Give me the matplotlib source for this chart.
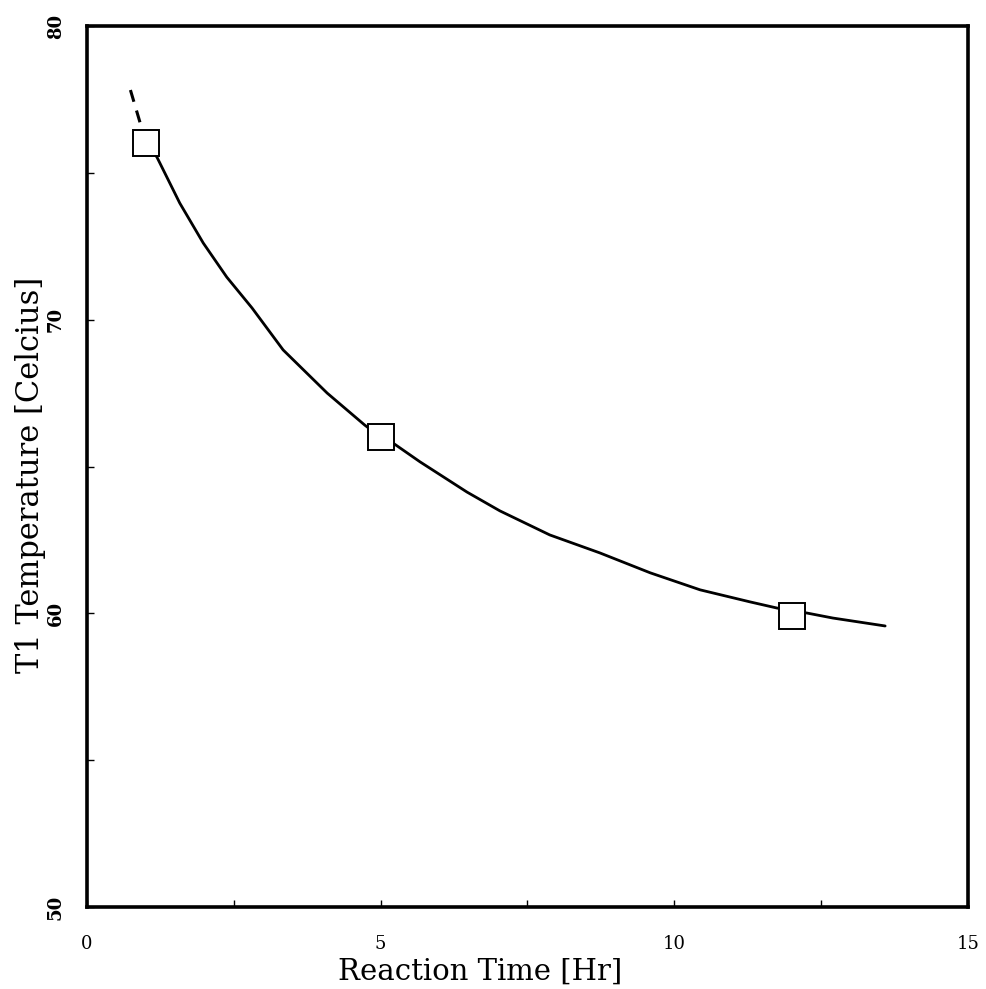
import matplotlib
matplotlib.use("Agg")
import matplotlib.pyplot as plt
from matplotlib.ticker import MultipleLocator

# measured points
time_pts = [1.0, 5.0, 12.0]
temp_pts = [76.0, 66.0, 59.9]

# fitted curve
curve_t = [1.0, 1.19, 1.58, 1.98, 2.38, 2.81, 3.34, 4.09, 4.73, 5.0, 5.21, 5.67,
           6.47, 7.03, 7.88, 8.73, 9.59, 10.44, 11.29, 11.75, 12.26, 12.70, 13.59]
curve_T = [76.0, 75.54, 73.97, 72.61, 71.45, 70.40, 68.97, 67.50, 66.41, 66.0, 65.80, 65.16,
           64.13, 63.49, 62.67, 62.06, 61.38, 60.80, 60.39, 60.18, 60.01, 59.84, 59.57]

# extrapolated (dashed) part before first point
extrap_t = [0.74, 0.95, 1.0]
extrap_T = [77.82, 76.4, 76.0]

xticks = [0, 5, 10, 15]
yticks = [50, 60, 70, 80]

serif = "DejaVu Serif"

fig = plt.figure(figsize=(9.86, 9.89), dpi=100)
ax = fig.add_axes([0.0882, 0.0829, 0.8935, 0.8908])

ax.plot(extrap_t, extrap_T, color="black", linewidth=2.2, linestyle=(0, (4, 3)))
ax.plot(curve_t, curve_T, color="black", linewidth=2.0,
        solid_joinstyle="round", solid_capstyle="round")
ax.plot(time_pts, temp_pts, linestyle="none", marker="s", markersize=19,
        markerfacecolor="white", markeredgecolor="black", markeredgewidth=1.4)

ax.set_xlim(0, 15)
ax.set_ylim(50, 80)

ax.set_xticks(xticks)
ax.set_yticks(yticks)
ax.xaxis.set_minor_locator(MultipleLocator(2.5))
ax.yaxis.set_minor_locator(MultipleLocator(5))
ax.tick_params(which="both", direction="in", length=5, width=1.0)
ax.tick_params(axis="x", pad=20, labelsize=13)
ax.tick_params(axis="y", pad=16, labelsize=13)
for lab in ax.get_xticklabels():
    lab.set_fontfamily(serif)
for lab in ax.get_yticklabels():
    lab.set_fontfamily(serif)
    lab.set_fontweight("bold")
    lab.set_rotation(90)
    lab.set_va("center")

for s in ax.spines.values():
    s.set_linewidth(2.6)

ax.set_xlabel("Reaction Time [Hr]", fontsize=21, family=serif, labelpad=0)
ax.xaxis.set_label_coords(0.446, -0.058)
ax.set_ylabel("T1 Temperature [Celcius]", fontsize=22, family=serif)
ax.yaxis.set_label_coords(-0.047, 0.49)

plt.savefig("out.png", dpi=100)
plt.close()
